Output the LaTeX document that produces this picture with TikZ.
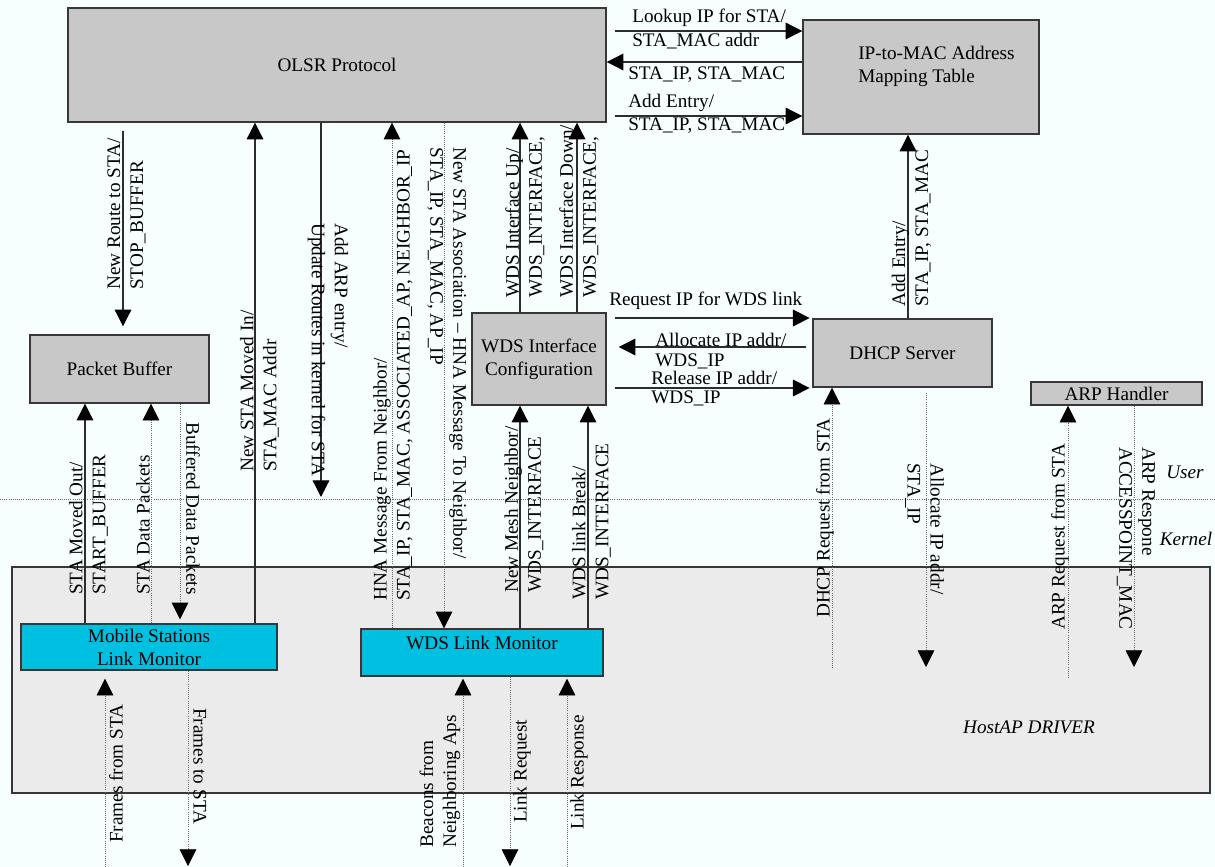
\documentclass[tikz,border=0pt]{standalone}
\usepackage{fontspec}
\setmainfont{Liberation Serif}
\usetikzlibrary{arrows.meta}
\definecolor{bg}{RGB}{247,254,254}
\definecolor{boxgray}{RGB}{200,200,200}
\definecolor{drvgray}{RGB}{235,235,235}
\definecolor{cyanbox}{RGB}{0,192,225}
\definecolor{edge}{RGB}{55,55,55}
\definecolor{solidln}{RGB}{45,45,45}
\definecolor{dotln}{RGB}{105,105,105}
\newcommand{\lbfont}{\fontsize{14.4}{17.2}\selectfont}
\tikzset{
  box/.style={draw=edge, fill=boxgray, line width=1.1pt, inner sep=0pt, align=center, font=\lbfont},
  lbl/.style={inner sep=0pt, align=left, font=\lbfont},
  uplbl/.style={lbl, rotate=90, anchor=west},
  dnlbl/.style={lbl, rotate=-90, anchor=west},
  tipA/.tip={Triangle[length=12.5pt,width=12.5pt,color=black]},
  sarr/.style={draw=solidln, line width=0.9pt, -tipA},
  darr/.style={draw=dotln, line width=0.6pt, densely dotted, -tipA},
}
\begin{document}
\begin{tikzpicture}[x=0.75pt,y=-0.75pt]
\path[fill=bg] (0,0) rectangle (1215,867);
\useasboundingbox (0,0) rectangle (1215,867);

% driver box
\node[box, fill=drvgray, minimum width=898.5pt, minimum height=169.5pt] (hostap) at (611,680) {};
\node[lbl, font=\lbfont\itshape] (hostapt) at (1029,727) {HostAP DRIVER};

% user/kernel separator
\coordinate (ukL) at (0,499);
\coordinate (ukR) at (1215,499);
\draw[dotln, line width=0.6pt, densely dotted] (ukL) -- (ukR);
\node[lbl, font=\lbfont\itshape] (user) at (1185,472) {User};
\node[lbl, font=\lbfont\itshape] (kernel) at (1186,539) {Kernel};

% boxes
\node[box, minimum width=403.5pt, minimum height=85.5pt] (olsr) at (337,65) {OLSR Protocol};
\node[box, minimum width=177pt, minimum height=85.5pt] (ipmac) at (921,77) {};
\node[lbl, anchor=west] (ipmact) at (858,66.5) {IP-to-MAC Address\\Mapping Table};
\node[box, minimum width=134.25pt, minimum height=51pt] (pb) at (119.5,369) {Packet Buffer};
\node[box, minimum width=100.5pt, minimum height=69pt] (wdsic) at (539,359) {WDS Interface\\Configuration};
\node[box, minimum width=134.25pt, minimum height=51pt] (dhcp) at (902.5,353) {DHCP Server};
\node[box, minimum width=128.25pt, minimum height=17.25pt] (arp) at (1116.5,393.5) {ARP Handler};
\node[box, fill=cyanbox, minimum width=192pt, minimum height=34.5pt] (msm) at (149,647) {Mobile Stations\\Link Monitor};
\node[box, fill=cyanbox, minimum width=181.5pt, minimum height=35.25pt] (wdslm) at (482,652.5) {};
\node[lbl] (wdslmt) at (482,643) {WDS Link Monitor};

% helper coordinates
\coordinate (xRoute) at (123,0);
\coordinate (xMovedIn) at (255,0);
\coordinate (xARP) at (321,0);
\coordinate (xHNAin) at (392,0);
\coordinate (xHNAout) at (444,0);
\coordinate (xUp) at (520,0);
\coordinate (xDown) at (577,0);
\coordinate (xOut) at (85,0);
\coordinate (xData) at (151,0);
\coordinate (xBuf) at (180,0);
\coordinate (xMesh) at (520,0);
\coordinate (xBreak) at (588,0);
\coordinate (xDreq) at (832,0);
\coordinate (xDalloc) at (926,0);
\coordinate (xAreq) at (1068,0);
\coordinate (xAresp) at (1134,0);
\coordinate (xFfrom) at (105,0);
\coordinate (xFto) at (188,0);
\coordinate (xBeac) at (463,0);
\coordinate (xLreq) at (510,0);
\coordinate (xLresp) at (567,0);
\coordinate (xAdd) at (908,0);
\coordinate (yLook) at (0,31);
\coordinate (yRet) at (0,62);
\coordinate (yAdd) at (0,116);
\coordinate (yReq) at (0,318);
\coordinate (yAlloc) at (0,347);
\coordinate (yRel) at (0,388);
\coordinate (arpEnd) at (321,497);
\coordinate (dreqStart) at (832,668);
\coordinate (dallocEnd) at (926,667);
\coordinate (areqStart) at (1068,678);
\coordinate (arespEnd) at (1134,667);
\coordinate (ffromStart) at (105,867);
\coordinate (ftoEnd) at (188,866);
\coordinate (beacStart) at (463,867);
\coordinate (lreqEnd) at (510,866);
\coordinate (lrespStart) at (567,867);

% vertical connectors
\draw[sarr, shorten <=6pt, shorten >=6pt] (olsr.south -| xRoute) -- (pb.north -| xRoute);
\draw[sarr] (msm.north -| xMovedIn) -- (olsr.south -| xMovedIn);
\draw[sarr] (olsr.south -| xARP) -- (arpEnd);
\draw[darr] (wdslm.north -| xHNAin) -- (olsr.south -| xHNAin);
\draw[darr] (olsr.south -| xHNAout) -- (wdslm.north -| xHNAout);
\draw[sarr] (wdsic.north -| xUp) -- (olsr.south -| xUp);
\draw[sarr] (wdsic.north -| xDown) -- (olsr.south -| xDown);
\draw[sarr] (msm.north -| xOut) -- (pb.south -| xOut);
\draw[darr] (msm.north -| xData) -- (pb.south -| xData);
\draw[darr, shorten >=3pt] (pb.south -| xBuf) -- (msm.north -| xBuf);
\draw[sarr] (wdslm.north -| xMesh) -- (wdsic.south -| xMesh);
\draw[sarr] (wdslm.north -| xBreak) -- (wdsic.south -| xBreak);
\draw[darr] (dreqStart) -- (dhcp.south -| xDreq);
\draw[darr, shorten <=4pt] (dhcp.south -| xDalloc) -- (dallocEnd);
\draw[darr] (areqStart) -- (arp.south -| xAreq);
\draw[darr] (arp.south -| xAresp) -- (arespEnd);
\draw[darr, shorten >=6pt] (ffromStart) -- (msm.south -| xFfrom);
\draw[darr] (msm.south -| xFto) -- (ftoEnd);
\draw[darr, shorten >=1.5pt] (beacStart) -- (wdslm.south -| xBeac);
\draw[darr] (wdslm.south -| xLreq) -- (lreqEnd);
\draw[darr, shorten >=1.5pt] (lrespStart) -- (wdslm.south -| xLresp);
\draw[sarr] (dhcp.north -| xAdd) -- (ipmac.south -| xAdd);

% horizontal connectors
\draw[sarr, shorten <=6pt] (olsr.east |- yLook) -- (ipmac.west |- yLook);
\draw[sarr] (ipmac.west |- yRet) -- (olsr.east |- yRet);
\draw[sarr, shorten <=6pt] (olsr.east |- yAdd) -- (ipmac.west |- yAdd);
\draw[sarr, shorten <=6pt, shorten >=2pt] (wdsic.east |- yReq) -- (dhcp.west |- yReq);
\draw[sarr, shorten <=5pt, shorten >=9pt] (dhcp.west |- yAlloc) -- (wdsic.east |- yAlloc);
\draw[sarr, shorten <=6pt, shorten >=2pt] (wdsic.east |- yRel) -- (dhcp.west |- yRel);

% horizontal labels
\node[lbl, anchor=west] (hLook1) at (632,18) {Lookup IP for STA/};
\node[lbl, anchor=west] (hLook2) at (632,41) {STA\_MAC addr};
\node[lbl, anchor=west] (hRet) at (628,75) {STA\_IP, STA\_MAC};
\node[lbl, anchor=west] (hAdd1) at (628,103) {Add Entry/};
\node[lbl, anchor=west] (hAdd2) at (628,126) {STA\_IP, STA\_MAC};
\node[lbl, anchor=west] (hReq) at (609,301) {Request IP for WDS link};
\node[lbl, anchor=west] (hAlloc1) at (655,340) {Allocate IP addr/};
\node[lbl, anchor=west] (hAlloc2) at (655,361) {WDS\_IP};
\node[lbl, anchor=west] (hRel1) at (651,378) {Release IP addr/};
\node[lbl, anchor=west] (hRel2) at (651,398) {WDS\_IP};

% vertical labels reading upward
\node[uplbl] (lRoute) at (126.5,290) {New Route to STA/\\STOP\_BUFFER};
\node[uplbl] (lMovedIn) at (259.5,472) {New STA Moved In/\\STA\_MAC Addr};
\node[uplbl] (lHNAin) at (393,601) {HNA Message From Neighbor/\\STA\_IP, STA\_MAC, ASSOCIATED\_AP, NEIGHBOR\_IP};
\node[uplbl] (lUp) at (525,298) {WDS Interface Up/\\WDS\_INTERFACE,};
\node[uplbl] (lDown) at (579,298) {WDS Interface Down/\\WDS\_INTERFACE,};
\node[uplbl] (lOut) at (88.5,595) {STA Moved Out/\\START\_BUFFER};
\node[uplbl] (lData) at (143,595) {STA Data Packets};
\node[uplbl] (lMesh) at (524,593) {New Mesh Neighbor/\\WDS\_INTERFACE};
\node[uplbl] (lBreak) at (591.5,600) {WDS link Break/\\WDS\_INTERFACE};
\node[uplbl] (lDreq) at (825,618) {DHCP Request from STA};
\node[uplbl] (lAreq) at (1060,630) {ARP Request from STA};
\node[uplbl] (lAdd) at (911.5,307) {Add Entry/\\STA\_IP, STA\_MAC};
\node[uplbl] (lFfrom) at (116,843) {Frames from STA};
\node[uplbl] (lBeac) at (440,848) {Beacons from\\Neighboring Aps};
\node[uplbl] (lLreq) at (522,823) {Link Request};
\node[uplbl] (lLresp) at (579,830) {Link Response};

% vertical labels reading downward
\node[dnlbl] (lARP) at (328,223) {Add ARP entry/\\Update Routes in kernel for STA};
\node[dnlbl] (lHNAout) at (447,147) {New STA Association – HNA Message To Neighbor/\\STA\_IP, STA\_MAC, AP\_IP};
\node[dnlbl] (lBuf) at (193,422) {Buffered Data Packets};
\node[dnlbl] (lDalloc) at (924.5,463) {Allocate IP addr/\\STA\_IP};
\node[dnlbl] (lAresp) at (1136,447) {ARP Respone\\ACCESSPOINT\_MAC};
\node[dnlbl] (lFto) at (200,708) {Frames to STA};
\end{tikzpicture}
\end{document}
